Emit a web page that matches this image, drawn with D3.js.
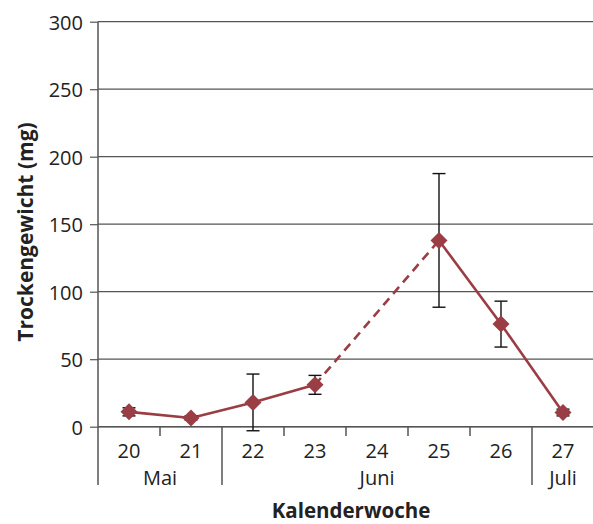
<!DOCTYPE html>
<html>
<head>
<meta charset="utf-8">
<script src="https://cdn.jsdelivr.net/npm/d3@7"></script>
<style>
  html, body { margin: 0; padding: 0; background: #fff; }
  svg { display: block; }
  text { font-family: "Open Sans", "Noto Sans", sans-serif; fill: #222; }
</style>
</head>
<body>
<svg id="chart" width="593" height="524"></svg>
<script>
// Calendar weeks (x categories) and their month groups
const weeks = ["20", "21", "22", "23", "24", "25", "26", "27"];
const months = [
  { name: "Mai",  from: "20", to: "21" },
  { name: "Juni", from: "22", to: "26" },
  { name: "Juli", from: "27", to: "27" }
];
// Mean dry weight (mg) per week; null where no sample was taken
const dryWeight = [11, 6.5, 18, 31, null, 138, 76, 10.5];
// Error (± mg) per week
const errorMg = [3, 1.5, 21, 7, null, 49.5, 17, 2.5];
const yTicks = [0, 50, 100, 150, 200, 250, 300];

(function draw() {
  const svg = d3.select("#chart");
  const mLeft = 98, mRight = 594, mTop = 21.7, mBottom = 426.7;
  const fontSize = 20;

  const x = d3.scaleBand().domain(weeks).range([mLeft, mRight]).padding(0);
  const y = d3.scaleLinear().domain([0, 300]).range([mBottom, mTop]);
  const cx = w => x(w) + x.bandwidth() / 2;

  // Horizontal grid lines
  svg.append("g")
    .selectAll("line")
    .data(yTicks)
    .join("line")
    .attr("x1", mLeft).attr("x2", mRight)
    .attr("y1", d => y(d)).attr("y2", d => y(d))
    .attr("stroke", "#555").attr("stroke-width", 1.2);

  // Y axis
  const yAxis = svg.append("g")
    .attr("transform", `translate(${mLeft},0)`)
    .call(d3.axisLeft(y).tickValues(yTicks).tickSize(8).tickPadding(7));
  yAxis.select(".domain").remove();
  yAxis.selectAll(".tick line").attr("stroke", "#555").attr("stroke-width", 1.2);
  yAxis.selectAll(".tick text")
    .attr("font-family", "Open Sans, Noto Sans, sans-serif")
    .attr("font-size", fontSize).attr("fill", "#222")
    .attr("dy", "0.38em");
  // vertical axis line extends down through the category rows
  svg.append("line")
    .attr("x1", mLeft).attr("x2", mLeft)
    .attr("y1", mTop).attr("y2", 485)
    .attr("stroke", "#555").attr("stroke-width", 1.5);

  // X axis: week labels
  const xAxis = svg.append("g")
    .attr("transform", `translate(0,${mBottom})`)
    .call(d3.axisBottom(x).tickSize(0).tickPadding(0));
  xAxis.select(".domain").remove();
  xAxis.selectAll(".tick text")
    .attr("font-family", "Open Sans, Noto Sans, sans-serif")
    .attr("font-size", fontSize).attr("fill", "#222")
    .attr("y", 31).attr("dy", null);
  svg.append("line")
    .attr("x1", mLeft).attr("x2", mRight)
    .attr("y1", mBottom).attr("y2", mBottom)
    .attr("stroke", "#555").attr("stroke-width", 1.5);

  // Boundaries between weeks: long where a month changes, short otherwise
  const monthStarts = new Set(months.map(m => m.from));
  svg.append("g")
    .selectAll("line")
    .data(weeks.slice(1))
    .join("line")
    .attr("x1", d => x(d)).attr("x2", d => x(d))
    .attr("y1", mBottom)
    .attr("y2", d => monthStarts.has(d) ? 485 : 436)
    .attr("stroke", "#555").attr("stroke-width", 1.5);

  // Month labels
  svg.append("g")
    .selectAll("text")
    .data(months)
    .join("text")
    .attr("x", d => (x(d.from) + x(d.to) + x.bandwidth()) / 2)
    .attr("y", 485)
    .attr("text-anchor", "middle")
    .attr("font-size", fontSize)
    .text(d => d.name);

  // Axis titles
  svg.append("text")
    .attr("x", 351)
    .attr("y", 518)
    .attr("text-anchor", "middle")
    .attr("font-size", 20.5).attr("font-weight", "bold")
    .text("Kalenderwoche");
  svg.append("text")
    .attr("transform", "translate(33,232) rotate(-90)")
    .attr("text-anchor", "middle")
    .attr("font-size", 21).attr("font-weight", "bold")
    .text("Trockengewicht (mg)");

  // Data points
  const pts = weeks.map((w, i) => ({ w, v: dryWeight[i], e: errorMg[i] }));
  const valid = pts.filter(d => d.v !== null);
  const color = "#9a3d44";
  const line = d3.line().x(d => cx(d.w)).y(d => y(d.v));

  // Connected segments; dashed where a week in between is missing
  for (let i = 0; i < valid.length - 1; i++) {
    const a = valid[i], b = valid[i + 1];
    const gap = weeks.indexOf(b.w) - weeks.indexOf(a.w) > 1;
    svg.append("path")
      .attr("d", line([a, b]))
      .attr("fill", "none")
      .attr("stroke", color)
      .attr("stroke-width", 2.6)
      .attr("stroke-dasharray", gap ? "9,6" : null);
  }

  // Error bars
  const eb = svg.append("g").attr("stroke", "#111").attr("stroke-width", 1.4);
  valid.forEach(d => {
    const xc = cx(d.w);
    eb.append("line").attr("x1", xc).attr("x2", xc)
      .attr("y1", y(d.v + d.e)).attr("y2", y(d.v - d.e));
    [d.v + d.e, d.v - d.e].forEach(v => {
      eb.append("line").attr("x1", xc - 6.5).attr("x2", xc + 6.5)
        .attr("y1", y(v)).attr("y2", y(v));
    });
  });

  // Diamond markers
  svg.append("g")
    .selectAll("path")
    .data(valid)
    .join("path")
    .attr("transform", d => `translate(${cx(d.w)},${y(d.v)})`)
    .attr("d", "M0,-8.5L8.5,0L0,8.5L-8.5,0Z")
    .attr("fill", color);
})();
</script>
</body>
</html>
